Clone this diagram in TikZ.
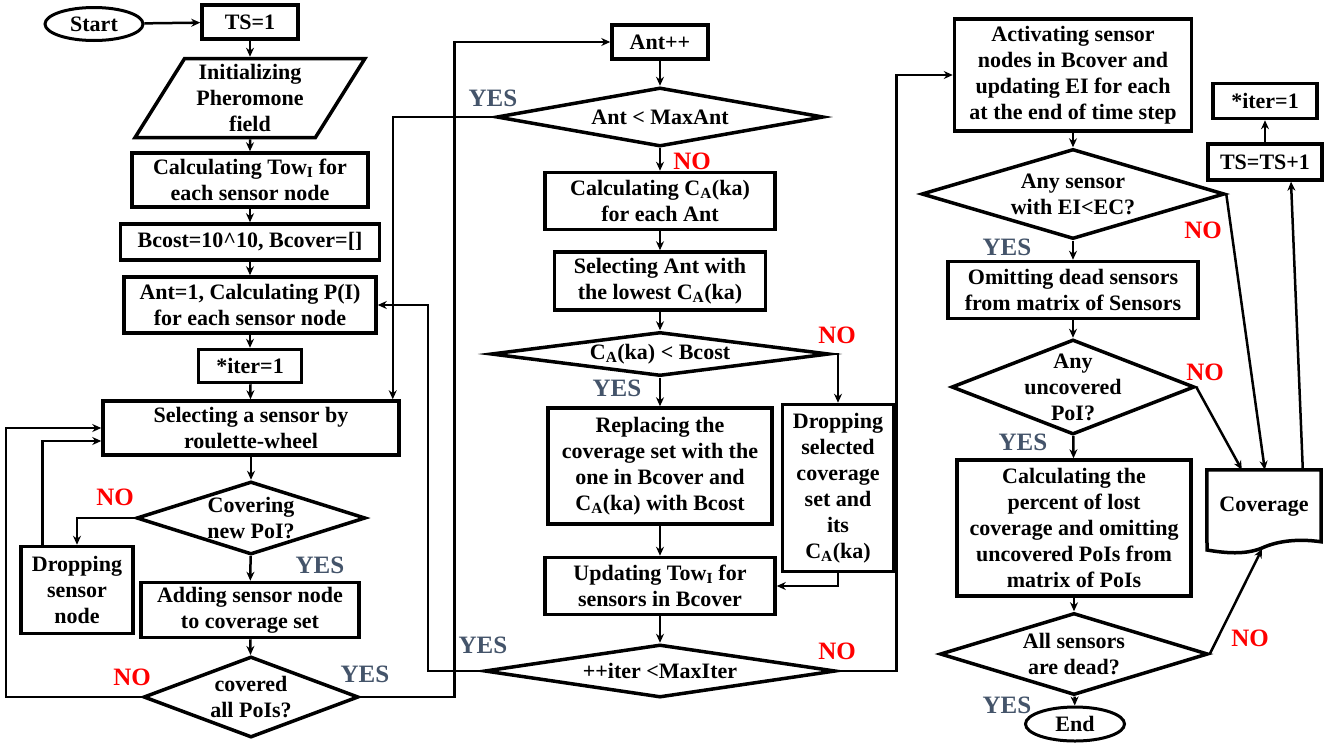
\documentclass[tikz,border=0pt]{standalone}
\usepackage{fontspec}
\setmainfont{Liberation Serif}
\usetikzlibrary{shapes.geometric,arrows.meta,calc}
\definecolor{yescol}{HTML}{44546A}
\definecolor{nocol}{HTML}{FF0000}
\begin{document}
\begin{tikzpicture}[x=1pt,y=-1pt,
  every node/.style={font=\bfseries\fontsize{22}{26}\selectfont, align=center, inner sep=0pt},
  box/.style={draw, line width=3.5pt, rectangle},
  dia/.style={draw, line width=3.5pt, diamond, inner sep=0pt},
  dlab/.style={font=\bfseries\fontsize{22}{26}\selectfont, align=center, inner sep=0pt},
  term/.style={draw, line width=3pt, ellipse},
  conn/.style={line width=2.5pt, -{Stealth[length=9pt,width=8pt]}},
  yes/.style={text=yescol, font=\bfseries\fontsize{25}{28}\selectfont},
  no/.style={text=nocol, font=\bfseries\fontsize{25}{28}\selectfont}]
\useasboundingbox (0,0) rectangle (1335,745);
\fill[white] (0,0) rectangle (1335,745);

% ---------- column 1 ----------
\node[term, minimum width=98, minimum height=33] (start) at (94,24) {Start};
\node[box, minimum width=96, minimum height=34] (ts) at (250,22) {TS=1};
\node[draw, line width=3.5pt, trapezium, trapezium left angle=59, trapezium right angle=121,
  trapezium stretches=true, minimum width=230, minimum height=79] (init) at (250,98)
  {Initializing\\Pheromone\\field};
\node[box, minimum width=236, minimum height=54] (calc1) at (250,180) {Calculating Tow\textsubscript{I} for\\each sensor node};
\node[box, minimum width=259, minimum height=36] (bcost) at (250,242) {Bcost=10\textasciicircum10, Bcover=[]};
\node[box, minimum width=252, minimum height=56] (ant1) at (250,305) {Ant=1, Calculating P(I)\\for each sensor node};
\node[box, minimum width=103, minimum height=33] (iter1) at (250,366) {*iter=1};
\node[box, minimum width=296, minimum height=54] (sel) at (251,428) {Selecting a sensor by\\roulette-wheel};
\node[dia, minimum width=229, minimum height=73, label={[dlab]center:Covering\\new PoI?}] (cov1) at (251,518) {};
\node[box, minimum width=112, minimum height=87] (drop) at (77,590) {Dropping\\sensor\\node};
\node[box, minimum width=218, minimum height=55] (add) at (250,610) {Adding sensor node\\to coverage set};
\node[dia, minimum width=215, minimum height=81, label={[dlab]center:covered\\all PoIs?}] (all) at (251,697) {};

% ---------- column 2 ----------
\node[box, minimum width=96, minimum height=34] (antpp) at (660,42) {Ant++};
\node[dia, minimum width=327, minimum height=59, label={[dlab]center:Ant < MaxAnt}] (maxant) at (660,117) {};
\node[box, minimum width=230, minimum height=57] (calcca) at (660,201) {Calculating C\textsubscript{A}(ka)\\for each Ant};
\node[box, minimum width=211, minimum height=58] (selant) at (660,281) {Selecting Ant with\\the lowest C\textsubscript{A}(ka)};
\node[dia, minimum width=338, minimum height=44, label={[dlab]center:C\textsubscript{A}(ka) < Bcost}] (bcostd) at (660,354) {};
\node[box, minimum width=224, minimum height=116] (repl) at (660,466) {Replacing the\\coverage set with the\\one in Bcover and\\C\textsubscript{A}(ka) with Bcost};
\node[box, minimum width=111, minimum height=167] (dropsel) at (838,488) {Dropping\\selected\\coverage\\set and\\its\\C\textsubscript{A}(ka)};
\node[box, minimum width=230, minimum height=57] (upd) at (660,586) {Updating Tow\textsubscript{I} for\\sensors in Bcover};
\node[dia, minimum width=351, minimum height=53, label={[dlab]center:++iter <MaxIter}] (iterd) at (660,671) {};

% ---------- column 3 ----------
\node[box, minimum width=237, minimum height=112] (act) at (1073,75) {Activating sensor\\nodes in Bcover and\\updating EI for each\\at the end of time step};
\node[dia, minimum width=303, minimum height=90, label={[dlab]center:Any sensor\\with EI<EC?}] (anys) at (1073,194) {};
\node[box, minimum width=250, minimum height=57] (omit) at (1073,290) {Omitting dead sensors\\from matrix of Sensors};
\node[dia, minimum width=243, minimum height=95, label={[dlab]center:Any\\uncovered\\PoI?}] (unc) at (1073,387) {};
\node[box, minimum width=234, minimum height=136] (perc) at (1074,528) {Calculating the\\percent of lost\\coverage and omitting\\uncovered PoIs from\\matrix of PoIs};
\node[dia, minimum width=268, minimum height=82, label={[dlab]center:All sensors\\are dead?}] (alld) at (1074,654) {};
\node[term, minimum width=99, minimum height=34] (end) at (1075,724) {End};

% ---------- column 4 ----------
\node[box, minimum width=104, minimum height=35] (iterR) at (1265,101) {*iter=1};
\node[box, minimum width=114, minimum height=36] (tsp) at (1265,162) {TS=TS+1};
\node[minimum width=114, minimum height=74] (covdoc) at (1264,507) {Coverage};
\draw[line width=3.5pt, line join=miter]
  (covdoc.north west) -- (covdoc.north east) -- ++(0,72)
  .. controls (1295,538) and (1275,542) .. (1262,548)
  .. controls (1245,555) and (1225,553) .. (1207,550) -- cycle;
\coordinate (covbot) at (1262,549);

% ---------- connectors column 1 ----------
\draw[conn] (start) -- (ts);
\draw[conn] (ts) -- (init);
\draw[conn] (init) -- (calc1);
\draw[conn] (calc1) -- (bcost);
\draw[conn] (bcost) -- (ant1);
\draw[conn] (ant1) -- (iter1);
\draw[conn] (iter1) -- (sel);
\draw[conn] (sel) -- (cov1);
\draw[conn] (cov1) -- (add);
\draw[conn] (cov1.west) -| (drop.north);
\draw[conn] ($(drop.north west)+(23,0)$) |- ($(sel.west)+(0,13)$);
\draw[conn] (add) -- (all);
\draw[conn] (all.west) -- ++(-136,0) |- (sel.west);
\draw[conn] (all.east) -- ++(94,0) |- (antpp.west);

% ---------- connectors column 2 ----------
\draw[conn] (antpp) -- (maxant);
\draw[conn] (maxant.west) -| ($(sel.north east)+(-8,0)$);
\draw[conn] (maxant) -- (calcca);
\draw[conn] (calcca) -- (selant);
\draw[conn] (selant) -- (bcostd);
\draw[conn] (bcostd) -- (repl);
\draw[conn] (bcostd.east) -| (dropsel.north);
\draw[conn] (repl) -- (upd);
\draw[conn] (dropsel.south) |- (upd.east);
\draw[conn] (upd) -- (iterd);
\draw[conn] (iterd.west) -- ++(-55,0) |- (ant1.east);
\draw[conn] (iterd.east) -- ++(59,0) |- (act.west);

% ---------- connectors column 3 ----------
\draw[conn] (act) -- (anys);
\draw[conn] (anys) -- (omit);
\draw[conn] (omit) -- (unc);
\draw[conn] (unc) -- (perc);
\draw[conn] (perc) -- (alld);
\draw[conn] (alld) -- (end);
\draw[conn] (anys.east) -- ($(covdoc.north west)+(58,0)$);
\draw[conn] (unc.east) -- ($(covdoc.north west)+(35,0)$);
\draw[conn] (alld.east) -- (covbot);
\draw[conn] ($(covdoc.north west)+(96,0)$) -- ($(tsp.south)+(26,0)$);
\draw[conn] (tsp) -- (iterR);

% ---------- labels ----------
\node[no] (l1) at (115,497) {NO};
\node[yes] (l2) at (320,565) {YES};
\node[no] (l3) at (132,677) {NO};
\node[yes] (l4) at (365,674) {YES};
\node[yes] (l5) at (493,98) {YES};
\node[no] (l6) at (692,161) {NO};
\node[no] (l7) at (837,335) {NO};
\node[yes] (l8) at (617,388) {YES};
\node[yes] (l9) at (483,645) {YES};
\node[no] (l10) at (837,651) {NO};
\node[no] (l11) at (1203,230) {NO};
\node[yes] (l12) at (1007,247) {YES};
\node[no] (l13) at (1205,372) {NO};
\node[yes] (l14) at (1023,442) {YES};
\node[no] (l15) at (1250,638) {NO};
\node[yes] (l16) at (1007,705) {YES};
\end{tikzpicture}
\end{document}
